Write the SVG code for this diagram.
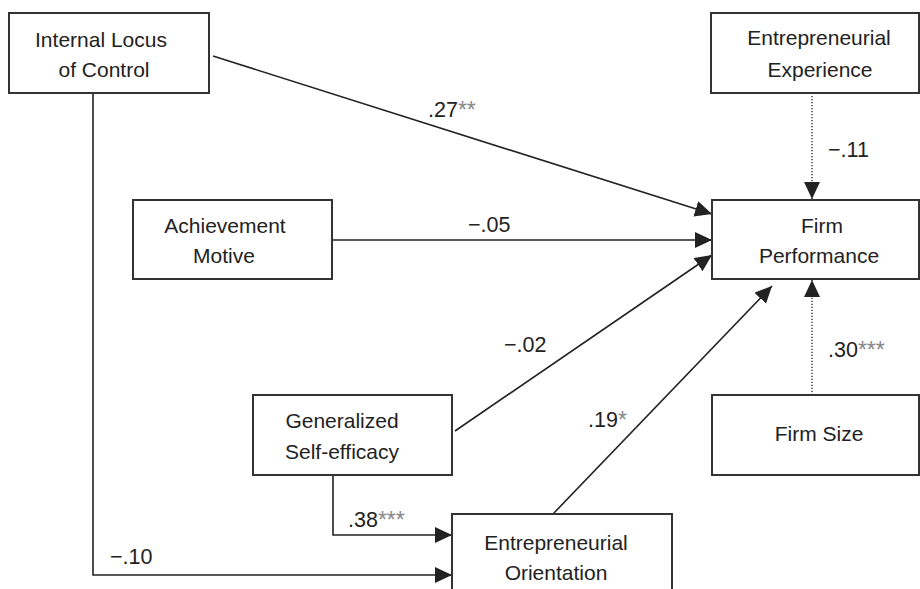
<svg xmlns="http://www.w3.org/2000/svg" width="920" height="589" viewBox="0 0 920 589">
<style>
.box{fill:#fff;stroke:#333;stroke-width:2}
.t{font-family:"Liberation Sans",Arial,sans-serif;font-size:21px;fill:#222;text-anchor:middle}
.lab{font-family:"Liberation Sans",Arial,sans-serif;font-size:21.5px;fill:#222}
.st{fill:#888;font-size:23px}
.ln{fill:none;stroke:#222;stroke-width:1.6}
.dot{fill:none;stroke:#222;stroke-width:1.3;stroke-dasharray:1.3 1.7}
</style>
<defs>
<marker id="ah" markerUnits="userSpaceOnUse" markerWidth="18" markerHeight="18" refX="17" refY="8" orient="auto" viewBox="0 0 18 18">
<path d="M0,0 L17,8 L0,16 z" fill="#222"/>
</marker>
</defs>
<rect width="920" height="589" fill="#fff"/>
<g id="connectors">
<line class="ln" x1="213" y1="56" x2="712" y2="214" marker-end="url(#ah)"/>
<line class="ln" x1="332" y1="240" x2="712" y2="240" marker-end="url(#ah)"/>
<line class="ln" x1="455" y1="431" x2="712" y2="255" marker-end="url(#ah)"/>
<line class="ln" x1="553" y1="514" x2="772" y2="286" marker-end="url(#ah)"/>
<line class="dot" x1="812" y1="96" x2="812" y2="199" marker-end="url(#ah)"/>
<line class="dot" x1="812" y1="395" x2="812" y2="280" marker-end="url(#ah)"/>
<path class="ln" d="M333,475 V535 H452" marker-end="url(#ah)"/>
<path class="ln" d="M93,93 V575 H452" marker-end="url(#ah)"/>
<text class="lab" x="428" y="117">.27<tspan class="st" dy="1">**</tspan></text>
<text class="lab" x="468" y="232">−.05</text>
<text class="lab" x="504" y="352">−.02</text>
<text class="lab" x="588" y="427">.19<tspan class="st" dy="1">*</tspan></text>
<text class="lab" x="348" y="527">.38<tspan class="st" dy="1">***</tspan></text>
<text class="lab" x="110" y="564">−.10</text>
<text class="lab" x="828" y="157">−.11</text>
<text class="lab" x="828" y="357">.30<tspan class="st" dy="1">***</tspan></text>
</g>
<g id="internal-locus">
<rect class="box" x="9" y="13" width="200" height="80"/>
<text class="t" x="101" y="47">Internal Locus</text>
<text class="t" x="104" y="77">of Control</text>
</g>
<g id="entrepreneurial-experience">
<rect class="box" x="711" y="13" width="208" height="80"/>
<text class="t" x="819" y="45">Entrepreneurial</text>
<text class="t" x="820" y="77">Experience</text>
</g>
<g id="achievement-motive">
<rect class="box" x="133" y="200" width="199" height="79"/>
<text class="t" x="225" y="233">Achievement</text>
<text class="t" x="224" y="263">Motive</text>
</g>
<g id="firm-performance">
<rect class="box" x="712" y="200" width="207" height="79"/>
<text class="t" x="822" y="233">Firm</text>
<text class="t" x="819" y="263">Performance</text>
</g>
<g id="generalized-self-efficacy">
<rect class="box" x="253" y="395" width="199" height="80"/>
<text class="t" x="342" y="428">Generalized</text>
<text class="t" x="342" y="459">Self-efficacy</text>
</g>
<g id="firm-size">
<rect class="box" x="712" y="395" width="207" height="80"/>
<text class="t" x="819" y="441">Firm Size</text>
</g>
<g id="entrepreneurial-orientation">
<rect class="box" x="452" y="514" width="220" height="90"/>
<text class="t" x="556" y="550">Entrepreneurial</text>
<text class="t" x="556" y="580">Orientation</text>
</g>
</svg>
